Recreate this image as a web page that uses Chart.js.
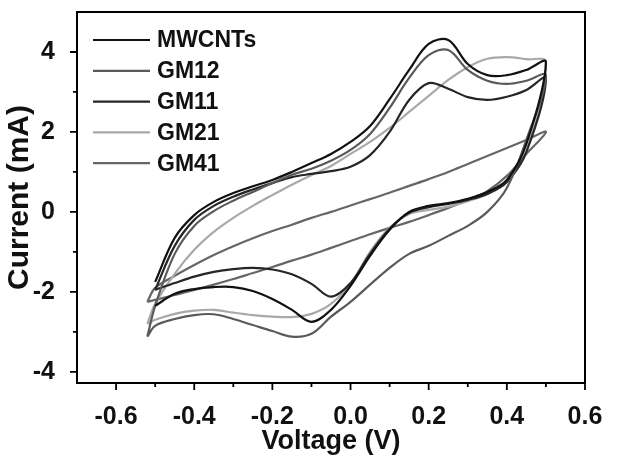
<!DOCTYPE html>
<html>
<head>
<meta charset="utf-8">
<script src="https://cdn.jsdelivr.net/npm/chart.js@4/dist/chart.umd.min.js"></script>
<style>
  html, body { margin: 0; padding: 0; background: #fff; }
</style>
</head>
<body>
<canvas id="canvas" width="622" height="465"></canvas>
<script>
// sweep potentials (V), shared by every scan
var voltage = [-0.52, -0.5, -0.45, -0.4, -0.35, -0.3, -0.25, -0.2, -0.15, -0.1, -0.05,
               0, 0.05, 0.1, 0.15, 0.2, 0.25, 0.3, 0.35, 0.4, 0.45, 0.5];

// current (mA) on the forward (anodic) and return (cathodic) sweep, one value per voltage
var mwcntsFwd = [null, -1.75, -0.65, -0.08, 0.25, 0.47, 0.64, 0.8, 1.0, 1.22, 1.45,
                 1.75, 2.15, 2.82, 3.55, 4.2, 4.3, 3.7, 3.42, 3.42, 3.55, 3.75];
var mwcntsRev = [null, -2.35, -2.05, -1.93, -1.88, -1.88, -1.98, -2.18, -2.45, -2.75, -2.45,
                 -1.85, -1.1, -0.45, 0.0, 0.15, 0.22, 0.33, 0.5, 0.8, 1.7, 3.75];

var gm12Fwd = [-3.12, -2.35, -1.05, -0.35, 0.02, 0.28, 0.5, 0.72, 0.93, 1.08, 1.28,
               1.55, 1.95, 2.6, 3.35, 3.92, 4.05, 3.55, 3.28, 3.2, 3.28, 3.42];
var gm12Rev = [-3.12, -2.85, -2.68, -2.58, -2.56, -2.68, -2.83, -2.98, -3.12, -3.05, -2.62,
               -2.25, -1.82, -1.4, -1.05, -0.85, -0.6, -0.35, 0.0, 0.6, 1.8, 3.42];

var gm11Fwd = [null, -1.95, -0.85, -0.2, 0.15, 0.38, 0.56, 0.72, 0.87, 0.95, 1.02,
               1.13, 1.42, 2.0, 2.8, 3.22, 3.08, 2.87, 2.8, 2.88, 3.05, 3.35];
var gm11Rev = [null, -1.95, -1.78, -1.62, -1.5, -1.43, -1.4, -1.44, -1.56, -1.8, -2.12,
               -1.78, -1.05, -0.42, -0.02, 0.12, 0.2, 0.3, 0.45, 0.75, 1.5, 3.35];

var gm21Fwd = [-2.8, -2.3, -1.55, -0.95, -0.5, -0.15, 0.15, 0.42, 0.68, 0.92, 1.15,
               1.45, 1.75, 2.1, 2.5, 2.9, 3.3, 3.62, 3.83, 3.87, 3.82, 3.75];
var gm21Rev = [-2.8, -2.7, -2.55, -2.47, -2.45, -2.52, -2.58, -2.62, -2.63, -2.55, -2.3,
               -1.8, -1.0, -0.4, -0.05, 0.05, 0.13, 0.27, 0.45, 0.75, 1.5, 3.75];

var gm41Fwd = [-2.25, -1.9, -1.6, -1.33, -1.08, -0.86, -0.66, -0.48, -0.32, -0.15, 0.0,
               0.16, 0.32, 0.48, 0.65, 0.82, 1.0, 1.2, 1.4, 1.6, 1.8, 2.0];
var gm41Rev = [-2.25, -2.2, -2.08, -1.95, -1.82, -1.68, -1.53, -1.38, -1.22, -1.07, -0.9,
               -0.73, -0.56, -0.4, -0.25, -0.08, 0.1, 0.3, 0.52, 0.9, 1.45, 2.0];

var seriesNames = ["MWCNTs", "GM12", "GM11", "GM21", "GM41"];
var seriesColors = ["#111111", "#5a5a5a", "#262626", "#a9a9a9", "#666666"];

// axis ticks
var xTicks = [-0.6, -0.5, -0.4, -0.3, -0.2, -0.1, 0, 0.1, 0.2, 0.3, 0.4, 0.5, 0.6];
var xLabels = [-0.6, -0.4, -0.2, 0, 0.2, 0.4, 0.6];
var yTicks = [-4, -3, -2, -1, 0, 1, 2, 3, 4];
var yLabels = [-4, -2, 0, 2, 4];

// forward sweep then the return sweep, as one loop
function loop(fwd, rev) {
    var pts = [];
    for (var i = 0; i < voltage.length; i++)
        pts.push({x: voltage[i], y: fwd[i]});
    for (var j = voltage.length - 2; j >= 0; j--)
        pts.push({x: voltage[j], y: rev[j]});
    return pts;
}

var loops = [
    loop(mwcntsFwd, mwcntsRev),
    loop(gm12Fwd, gm12Rev),
    loop(gm11Fwd, gm11Rev),
    loop(gm21Fwd, gm21Rev),
    loop(gm41Fwd, gm41Rev)
];

function has(list, v) {
    for (var i = 0; i < list.length; i++)
        if (Math.abs(list[i] - v) < 1e-6) return true;
    return false;
}

// box round the plot, outside ticks, and the legend in the corner
var framePlugin = {
    id: "frame",
    afterDraw: function(chart) {
        var ctx = chart.ctx, a = chart.chartArea;
        var xs = chart.scales.x, ys = chart.scales.y;
        ctx.save();
        ctx.strokeStyle = "#000";
        ctx.lineWidth = 2;
        ctx.strokeRect(a.left, a.top, a.right - a.left, a.bottom - a.top);
        ctx.lineWidth = 1.8;
        ctx.beginPath();
        xTicks.forEach(function(t) {
            var px = xs.getPixelForValue(t);
            var len = has(xLabels, t) ? 7 : 4;
            ctx.moveTo(px, a.bottom);
            ctx.lineTo(px, a.bottom + len);
        });
        yTicks.forEach(function(t) {
            var py = ys.getPixelForValue(t);
            var len = has(yLabels, t) ? 7 : 4;
            ctx.moveTo(a.left, py);
            ctx.lineTo(a.left - len, py);
        });
        ctx.stroke();

        // legend
        var lx = a.left + 16, ly = a.top + 28, step = 30.8;
        ctx.font = "bold 23px 'Liberation Sans', Arial, sans-serif";
        ctx.textBaseline = "middle";
        ctx.fillStyle = "#111";
        chart.data.datasets.forEach(function(ds, i) {
            var y = ly + i * step;
            ctx.strokeStyle = ds.borderColor;
            ctx.lineWidth = ds.borderWidth;
            ctx.beginPath();
            ctx.moveTo(lx, y);
            ctx.lineTo(lx + 57, y);
            ctx.stroke();
            ctx.fillText(ds.label, lx + 64, y + 1);
        });
        ctx.restore();
    }
};

Chart.defaults.font.family = "'Liberation Sans', Arial, sans-serif";
Chart.defaults.color = "#111";

new Chart("canvas", {
    type: "scatter",
    data: {
        datasets: seriesNames.map(function(name, i) {
            return {
                label: name,
                data: loops[i],
                showLine: true,
                borderColor: seriesColors[i],
                borderWidth: 2.2,
                pointRadius: 0,
                tension: 0.35,
                fill: false
            };
        })
    },
    options: {
        responsive: false,
        animation: false,
        layout: { padding: { top: 12, right: 37, left: 0, bottom: 0 } },
        plugins: {
            legend: { display: false },
            tooltip: { enabled: false }
        },
        scales: {
            x: {
                type: "linear",
                min: -0.7,
                max: 0.6,
                afterBuildTicks: function(s) { s.ticks = xTicks.map(function(v) { return {value: v}; }); },
                afterFit: function(s) { s.height = 82; s.paddingLeft = 0; s.paddingRight = 0; },
                grid: { display: false },
                border: { display: false },
                ticks: {
                    autoSkip: false,
                    maxRotation: 0,
                    padding: 11,
                    color: "#111",
                    font: { size: 25, weight: "bold" },
                    callback: function(v) { return has(xLabels, v) ? v.toFixed(1) : ""; }
                },
                title: {
                    display: true,
                    text: "Voltage (V)",
                    color: "#111",
                    font: { size: 27, weight: "bold" },
                    padding: { top: 0, bottom: 7 }
                }
            },
            y: {
                type: "linear",
                min: -4.28,
                max: 5,
                afterBuildTicks: function(s) { s.ticks = yTicks.map(function(v) { return {value: v}; }); },
                afterFit: function(s) { s.width = 77; s.paddingTop = 0; s.paddingBottom = 0; },
                grid: { display: false },
                border: { display: false },
                ticks: {
                    autoSkip: false,
                    padding: 14,
                    color: "#111",
                    font: { size: 25, weight: "bold" },
                    callback: function(v) { return has(yLabels, v) ? String(v) : ""; }
                },
                title: {
                    display: true,
                    text: "Current (mA)",
                    color: "#111",
                    font: { size: 30, weight: "bold" },
                    padding: { top: 2, bottom: 0 }
                }
            }
        }
    },
    plugins: [framePlugin]
});
</script>
</body>
</html>
